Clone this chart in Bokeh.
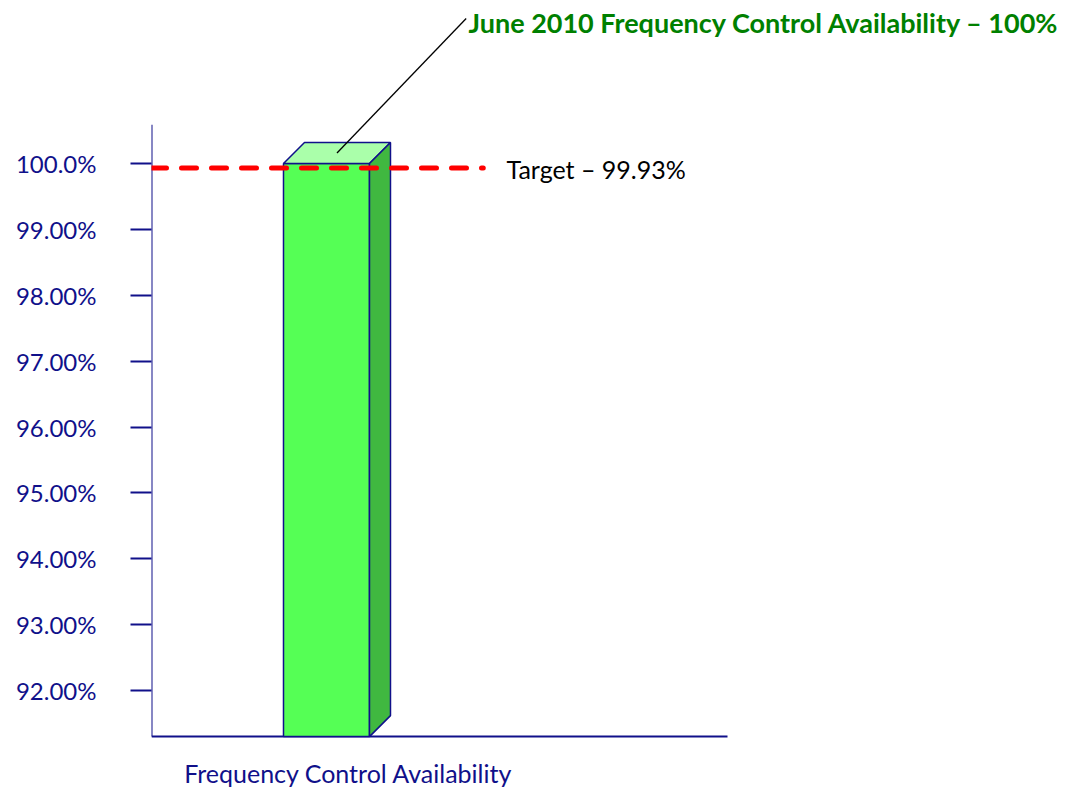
from bokeh.plotting import figure
from bokeh.models import Range1d, FixedTicker
from bokeh.core.properties import value
from bokeh.embed import file_html
from bokeh.resources import INLINE

# ---- data ----
categories = ["Frequency Control Availability"]
availability = [100.0]
target = [99.93]
tick_values = [92, 93, 94, 95, 96, 97, 98, 99, 100]
tick_labels = ["92.00%", "93.00%", "94.00%", "95.00%", "96.00%",
               "97.00%", "98.00%", "99.00%", "100.0%"]
title_text = "June 2010 Frequency Control Availability \u2013 100%"
target_text = "Target \u2013 99.93%"
axis_min = 91.30
axis_max = 100.59

# ---- styles ----
NAVY = "#10108A"
FONT = "Lato"
FRONT = "#55FF55"
TOP = "#AAFFAA"
SIDE = "#40B840"

W, H = 1067, 787
LEFT = 151
px_per_x = 576.0
px_per_y = 65.875
x_end = (W - LEFT) / px_per_x
y_start = 92 - (H - 690) / px_per_y
y_end = 100 + 163 / px_per_y

p = figure(width=W, height=H, output_backend="svg", toolbar_location=None,
           x_range=Range1d(0, x_end), y_range=Range1d(y_start, y_end),
           x_axis_location=None,
           min_border_left=LEFT, min_border_right=0,
           min_border_top=0, min_border_bottom=0)
p.outline_line_color = None
p.grid.visible = False
p.background_fill_color = "white"
p.border_fill_color = "white"

yax = p.yaxis[0]
yax.ticker = FixedTicker(ticks=tick_values)
yax.major_label_overrides = {v: l for v, l in zip(tick_values, tick_labels)}
yax.axis_line_color = None
yax.major_tick_out = 21
yax.major_tick_in = 0
yax.major_tick_line_color = NAVY
yax.major_tick_line_width = 2
yax.minor_tick_line_color = None
yax.major_label_standoff = 34
yax.major_label_text_font = FONT
yax.major_label_text_font_size = "24px"
yax.major_label_text_color = NAVY

# axis lines
p.segment(x0=[0], y0=[axis_min], x1=[0], y1=[axis_max], line_color=NAVY, line_width=2)
p.segment(x0=[0], y0=[axis_min], x1=[1], y1=[axis_min], line_color=NAVY, line_width=2)

# 3D bar
bar_center = 0.3038
bar_width = 0.1493
dx = 21 / px_per_x
dy = 21 / px_per_y
x0s = [bar_center - bar_width / 2 for _ in availability]
x1s = [bar_center + bar_width / 2 for _ in availability]

p.vbar(x=[bar_center] * len(availability), top=availability, bottom=axis_min,
       width=bar_width, fill_color=FRONT, line_color=NAVY, line_width=1.5)
top_xs = [[a, a + dx, b + dx, b] for a, b in zip(x0s, x1s)]
top_ys = [[v, v + dy, v + dy, v] for v in availability]
p.patches(top_xs, top_ys, fill_color=TOP, line_color=NAVY, line_width=1.5)
side_xs = [[b, b + dx, b + dx, b] for b in x1s]
side_ys = [[axis_min, axis_min + dy, v + dy, v] for v in availability]
p.patches(side_xs, side_ys, fill_color=SIDE, line_color=NAVY, line_width=1.5)

# target line
p.line(x=[0, 0.576], y=[target[0], target[0]], line_color="#FF0000",
       line_width=5, line_dash="15 15", line_cap="round")
p.text(x=[0.6163], y=[target[0] - 0.02], text=[target_text], text_font=value(FONT),
       text_font_size="25px", text_color="black",
       text_align="left", text_baseline="middle")

# title annotation with leader line
title_x = 0.5503
title_y = 100 + (163 - 22) / px_per_y
p.segment(x0=[title_x - 0.004], y0=[title_y + 0.06],
          x1=[bar_center + dx / 2], y1=[availability[0] + dy / 2],
          line_color="black", line_width=1.3)
p.text(x=[title_x], y=[title_y], text=[title_text], text_font=value(FONT),
       text_font_style="bold", text_font_size="27px", text_color="#008000",
       text_align="left", text_baseline="middle")

# category label
p.text(x=[0.342], y=[92 - (772 - 690) / px_per_y], text=categories,
       text_font=value(FONT), text_font_size="25px", text_color=NAVY,
       text_align="center", text_baseline="middle")

open("out.html", "w").write(file_html(p, INLINE))
